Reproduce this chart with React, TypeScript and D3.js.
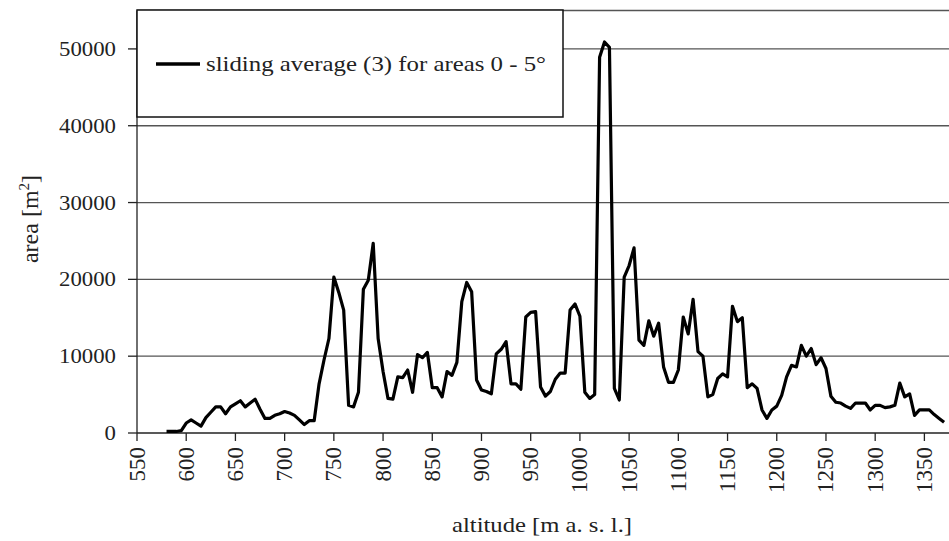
import React from "react";
import * as d3 from "d3";

const altitudes: number[] = d3.range(580, 1371, 5);
const areas: number[] = [
  200, 200, 200, 300, 1300, 1700, 1300, 900, 2000, 2700,
  3400, 3400, 2500, 3400, 3800, 4200, 3400, 3900, 4400, 3100,
  1900, 1900, 2300, 2500, 2800, 2600, 2300, 1700, 1100, 1600,
  1600, 6400, 9500, 12300, 20300, 18300, 16000, 3600, 3400, 5300,
  18700, 19900, 24700, 12300, 8000, 4500, 4400, 7300, 7200, 8200,
  5300, 10200, 9800, 10500, 5900, 5900, 4700, 8000, 7500, 9200,
  17100, 19600, 18400, 6900, 5600, 5400, 5100, 10300, 10900, 11900,
  6400, 6400, 5700, 15100, 15700, 15800, 6000, 4800, 5400, 7000,
  7800, 7800, 16000, 16800, 15200, 5300, 4500, 5000, 48900, 50900,
  50200, 5800, 4300, 20300, 21800, 24100, 12100, 11400, 14600, 12600,
  14300, 8600, 6600, 6600, 8200, 15100, 12900, 17400, 10600, 10000,
  4700, 5000, 7100, 7700, 7300, 16500, 14500, 15000, 5900, 6400,
  5800, 3000, 1900, 3000, 3500, 4900, 7300, 8800, 8600, 11400,
  10000, 11000, 8900, 9800, 8400, 4800, 4000, 3900, 3500, 3200,
  3900, 3900, 3900, 3000, 3600, 3600, 3300, 3400, 3600, 6500,
  4700, 5100, 2300, 3000, 3000, 3000, 2400, 1900, 1400,
];
const xTicks: number[] = d3.range(550, 1351, 50);
const yTicks: number[] = [0, 10000, 20000, 30000, 40000, 50000];
const legendLabel = "sliding average (3) for areas 0 - 5°";

export default function App() {
  const W = 949, H = 541;
  const x = d3.scaleLinear().domain([550, 1375]).range([137, 949]);
  const y = d3.scaleLinear().domain([0, 55000]).range([433, 10.5]);
  const data = altitudes.map((a, i) => [a, areas[i]] as [number, number]);
  const line = d3.line<[number, number]>().x(d => x(d[0])).y(d => y(d[1]));
  const fs = { fontFamily: "Liberation Serif, Times New Roman, serif" };
  const grid = "#555";
  return (
    <svg width={W} height={H} style={{ position: "absolute", left: 0, top: 0, background: "#fff" }}>
      <line x1={x(550)} x2={W} y1={y(55000)} y2={y(55000)} stroke={grid} strokeWidth={1.3} />
      {yTicks.filter(t => t > 0).map(t => (
        <line key={t} x1={x(550)} x2={W} y1={y(t)} y2={y(t)} stroke={grid} strokeWidth={1.3} />
      ))}
      <line x1={x(550)} x2={x(550)} y1={y(55000)} y2={y(0)} stroke="#222" strokeWidth={1.3} />
      <line x1={x(550)} x2={W} y1={y(0)} y2={y(0)} stroke="#222" strokeWidth={1.3} />
      {yTicks.map(t => (
        <g key={t}>
          <line x1={x(550) - 9} x2={x(550)} y1={y(t)} y2={y(t)} stroke="#222" strokeWidth={1.3} />
          <text x={116} y={y(t) + 7} textAnchor="end" style={fs} fontSize={20}
            textLength={String(t).length * 11.4} lengthAdjust="spacingAndGlyphs" fill="#222">{t}</text>
        </g>
      ))}
      {xTicks.map(t => (
        <g key={t}>
          <line x1={x(t)} x2={x(t)} y1={y(0)} y2={y(0) + 8} stroke="#222" strokeWidth={1.3} />
          <text transform={`translate(${x(t) + 7.5},447) rotate(-90)`} textAnchor="end"
            style={fs} fontSize={23} fill="#222">{t}</text>
        </g>
      ))}
      <path d={line(data) || ""} fill="none" stroke="#000" strokeWidth={3.2} strokeLinejoin="round" />
      <rect x={137} y={10} width={426} height={107} fill="#fff" stroke="#111" strokeWidth={1.5} />
      <line x1={156} x2={200} y1={64} y2={64} stroke="#000" strokeWidth={3.5} />
      <text x={206} y={71} style={fs} fontSize={22} fill="#222"
        textLength={340} lengthAdjust="spacingAndGlyphs">{legendLabel}</text>
      <text transform="translate(38,219) rotate(-90)" textAnchor="middle" style={fs} fontSize={24} fill="#222">
        area [m<tspan dy={-9} fontSize={15}>2</tspan><tspan dy={9}>]</tspan>
      </text>
      <text x={542} y={532} textAnchor="middle" style={fs} fontSize={22} fill="#222"
        textLength={180} lengthAdjust="spacingAndGlyphs">altitude [m a. s. l.]</text>
    </svg>
  );
}
